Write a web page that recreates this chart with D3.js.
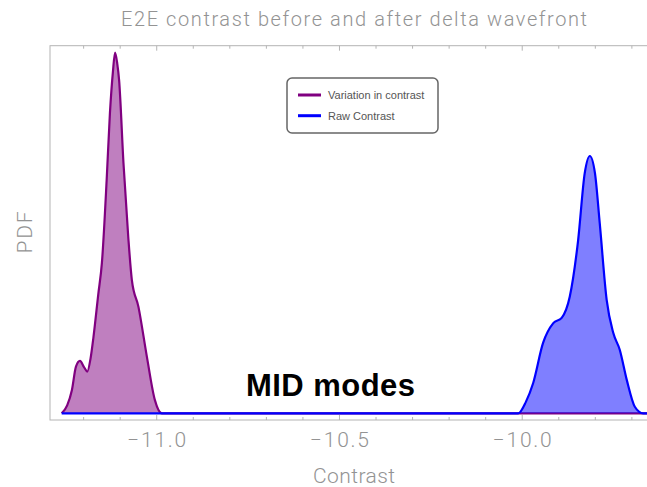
<!DOCTYPE html>
<html><head><meta charset="utf-8">
<script src="https://cdn.jsdelivr.net/npm/d3@7"></script>
<style>
html,body{margin:0;padding:0;background:#fff;overflow:hidden;}
text{font-family:"Roboto","Liberation Sans",sans-serif;}
</style></head>
<body>
<svg id="chart" width="647" height="487"></svg>
<script>
// ---- data ----
const titleText = "E2E contrast before and after delta wavefront";
const xLabel = "Contrast";
const yLabel = "PDF";
const annotation = "MID modes";
const seriesNames = ["Variation in contrast", "Raw Contrast"];
const xTickValues = [-11.0, -10.5, -10.0];
const xTickLabels = ["\u221211.0", "\u221210.5", "\u221210.0"];
const purpleX = [-11.260, -11.245, -11.232, -11.221, -11.210, -11.199, -11.190, -11.181, -11.173, -11.160, -11.150, -11.137, -11.128, -11.120, -11.114, -11.108, -11.103, -11.091, -11.078, -11.068, -11.050, -11.027, -11.005, -10.986, -9.634];
const purpleY = [0, 0.18, 0.53, 1.06, 1.19, 1.05, 0.95, 1.25, 1.74, 2.70, 3.42, 5.30, 6.83, 7.75, 8.20, 7.95, 7.58, 5.69, 4.02, 3.03, 2.42, 1.29, 0.30, 0, 0];
const blueX = [-11.260, -10.011, -9.990, -9.970, -9.943, -9.915, -9.892, -9.870, -9.847, -9.829, -9.815, -9.801, -9.788, -9.769, -9.751, -9.733, -9.714, -9.692, -9.669, -9.634];
const blueY = [0, 0, 0.26, 0.69, 1.60, 2.05, 2.17, 2.65, 3.94, 5.46, 5.85, 5.46, 4.33, 2.58, 1.83, 1.44, 0.76, 0.15, 0, 0];

// ---- layout ----
const svg = d3.select("#chart");
const L = 50, R = 656, T = 45.7, B = 420;
const x = d3.scaleLinear().domain([-11.292, -9.634]).range([L, R]);
const y = d3.scaleLinear().domain([-0.152, 8.358]).range([B, T]);

const grey = "#939393";

// title
svg.append("text").attr("x", 354).attr("y", 25.7).attr("text-anchor", "middle")
  .attr("font-size", 20).attr("font-weight", 300).attr("fill", grey)
  .attr("textLength", 466).attr("lengthAdjust", "spacing").text(titleText);

// series
const purple = purpleX.map((v, i) => [v, purpleY[i]]);
const blue = blueX.map((v, i) => [v, blueY[i]]);
const area = d3.area().x(d => x(d[0])).y0(y(0)).y1(d => y(d[1])).curve(d3.curveMonotoneX);
const line = d3.line().x(d => x(d[0])).y(d => y(d[1])).curve(d3.curveMonotoneX);

const g = svg.append("g");
g.append("path").attr("d", area(purple)).attr("fill", "#800080").attr("fill-opacity", 0.5);
g.append("path").attr("d", line(purple)).attr("fill", "none").attr("stroke", "#800080").attr("stroke-width", 2.2);
g.append("path").attr("d", area(blue)).attr("fill", "#0000ff").attr("fill-opacity", 0.5);
g.append("path").attr("d", line(blue)).attr("fill", "none").attr("stroke", "#0000ff").attr("stroke-width", 2.2);

// frame
const frameColor = "#b4b4b4";
svg.append("rect").attr("x", L).attr("y", T).attr("width", R - L).attr("height", B - T)
  .attr("fill", "none").attr("stroke", frameColor).attr("stroke-width", 1);

// ticks (bottom & top), inward
const minor = d3.range(-11.2, -9.6, 0.1).map(v => Math.round(v * 10) / 10);
minor.forEach(v => {
  const isMajor = Math.abs(v * 2 - Math.round(v * 2)) < 1e-6;
  const len = isMajor ? 5 : 3;
  svg.append("line").attr("x1", x(v)).attr("x2", x(v)).attr("y1", B).attr("y2", B - len)
    .attr("stroke", frameColor).attr("stroke-width", 1);
  svg.append("line").attr("x1", x(v)).attr("x2", x(v)).attr("y1", T).attr("y2", T + len)
    .attr("stroke", frameColor).attr("stroke-width", 1);
});

// tick labels
xTickValues.forEach((v, i) => {
  svg.append("text").attr("x", x(v)).attr("y", 447).attr("text-anchor", "middle")
    .attr("font-size", 21).attr("font-weight", 300).attr("fill", grey)
    .attr("textLength", 59).attr("lengthAdjust", "spacing").text(xTickLabels[i]);
});

// axis labels
svg.append("text").attr("x", 354).attr("y", 483.3).attr("text-anchor", "middle")
  .attr("font-size", 21).attr("font-weight", 300).attr("fill", grey)
  .attr("textLength", 82).attr("lengthAdjust", "spacing").text(xLabel);
svg.append("text").attr("transform", "translate(31.5,232.5) rotate(-90)").attr("text-anchor", "middle")
  .attr("font-size", 21).attr("font-weight", 300).attr("fill", grey)
  .attr("textLength", 42).attr("lengthAdjust", "spacing").text(yLabel);

// annotation
svg.append("text").attr("x", 330.5).attr("y", 396).attr("text-anchor", "middle")
  .style("font-family", "'Liberation Sans', Arial, sans-serif")
  .attr("font-size", 31).attr("font-weight", "bold").attr("fill", "#000")
  .attr("textLength", 169).attr("lengthAdjust", "spacing").text(annotation);

// legend
const lg = svg.append("g");
lg.append("rect").attr("x", 287).attr("y", 78).attr("width", 151).attr("height", 55).attr("rx", 5)
  .attr("fill", "#fff").attr("stroke", "#666").attr("stroke-width", 1.5);
const legColors = ["#800080", "#0000ff"];
seriesNames.forEach((n, i) => {
  const yy = 95 + i * 20.7;
  lg.append("line").attr("x1", 298).attr("x2", 321).attr("y1", yy).attr("y2", yy)
    .attr("stroke", legColors[i]).attr("stroke-width", 3);
  lg.append("text").attr("x", 328).attr("y", yy + 4).attr("font-size", 11)
    .style("font-family", "'Liberation Sans', Arial, sans-serif").attr("fill", "#555").text(n);
});
</script>
</body></html>
